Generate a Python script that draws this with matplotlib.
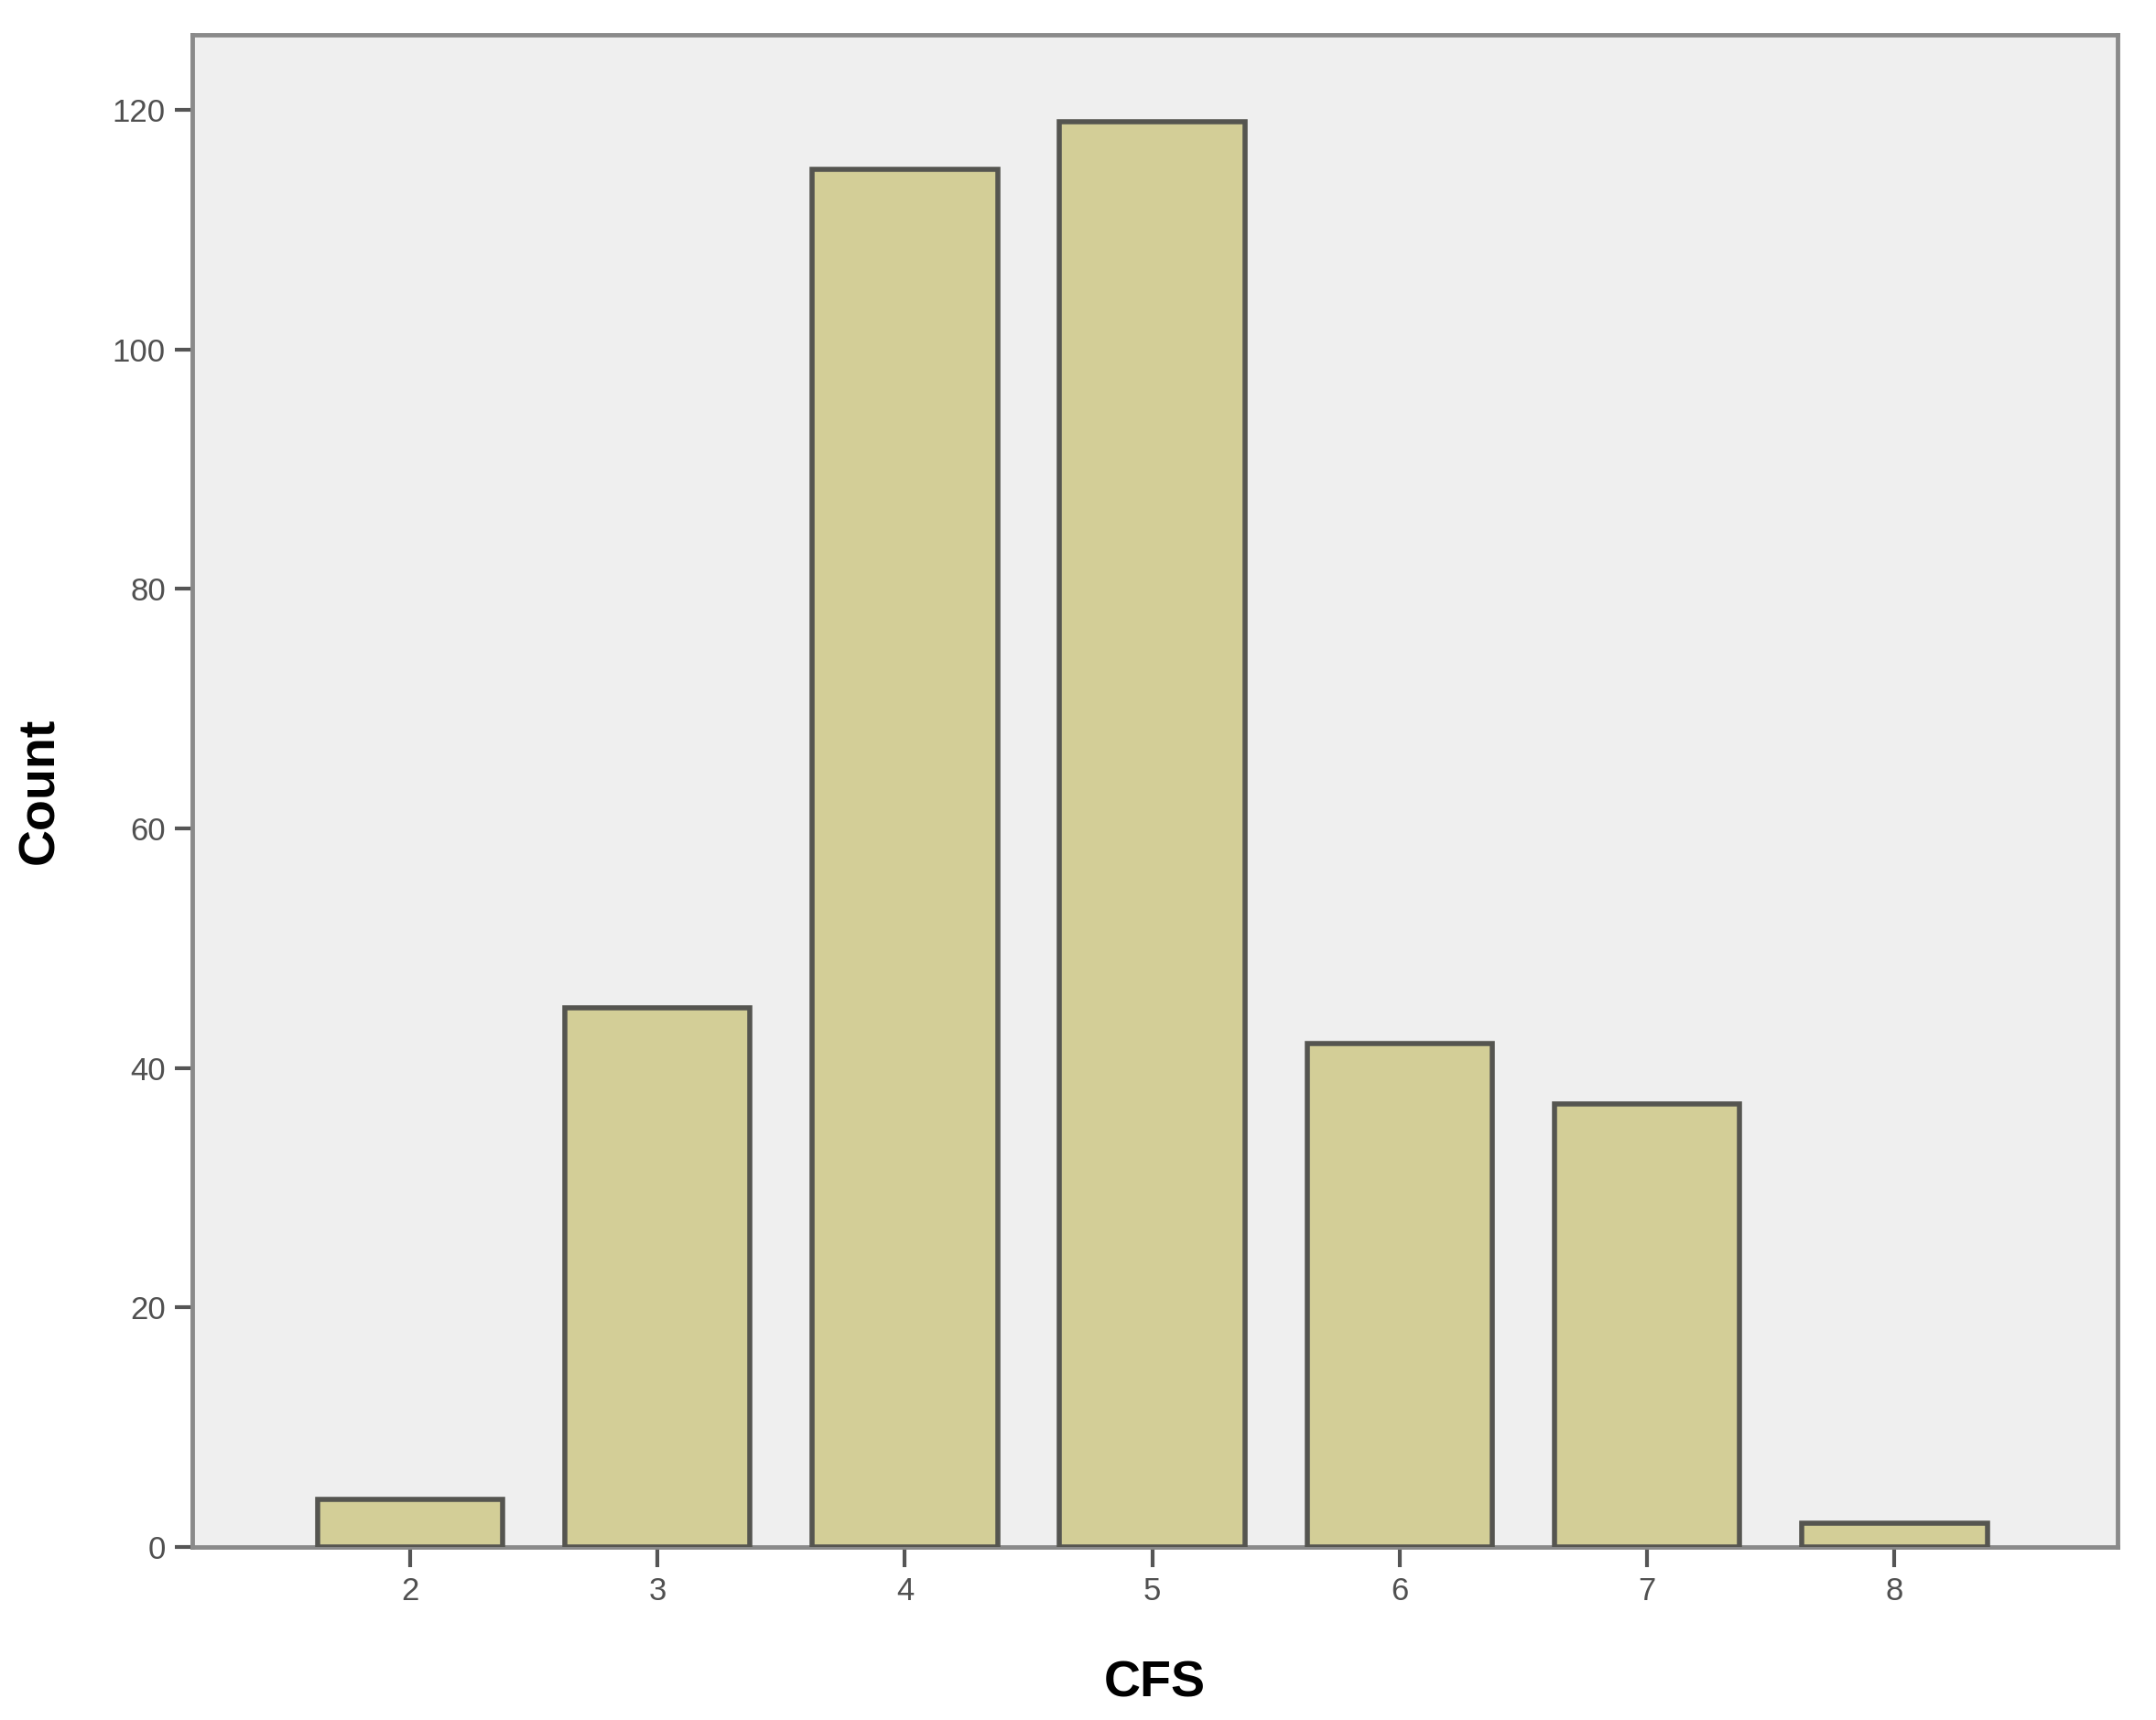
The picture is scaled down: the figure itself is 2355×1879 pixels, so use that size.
import matplotlib.pyplot as plt
import matplotlib.ticker as ticker

# CFS value counts
cfs = [2, 3, 4, 5, 6, 7, 8]
counts = [4, 45, 115, 119, 42, 37, 2]
y_ticks = [0, 20, 40, 60, 80, 100, 120]

plt.rcParams['font.family'] = ['Liberation Sans', 'DejaVu Sans']

fig = plt.figure(figsize=(23.55, 18.79), dpi=100)
ax = fig.add_axes([0.0892, 0.1006, 0.8928, 0.8794])
ax.set_facecolor('#efefef')

ax.bar(cfs, counts, width=0.75, color='#d3ce97', edgecolor='#555550', linewidth=4, zorder=3)

ax.set_xlim(1.12, 8.9)
ax.set_ylim(0, 126.3)
ax.set_xticks(cfs)
ax.set_yticks(y_ticks)
ax.yaxis.set_minor_locator(ticker.NullLocator())

for side in ['left', 'right', 'top', 'bottom']:
    ax.spines[side].set_color('#8a8a8a')
    ax.spines[side].set_linewidth(3.5)

ax.tick_params(axis='both', direction='out', length=14, width=3, color='#555555',
               labelsize=25, labelcolor='#505050', pad=7)
ax.tick_params(axis='x', length=16)

ax.set_xlabel('CFS', fontsize=40, fontweight='bold', labelpad=42)
ax.set_ylabel('Count', fontsize=40, fontweight='bold', labelpad=38)

fig.savefig('out.png', dpi=100, facecolor='white')
